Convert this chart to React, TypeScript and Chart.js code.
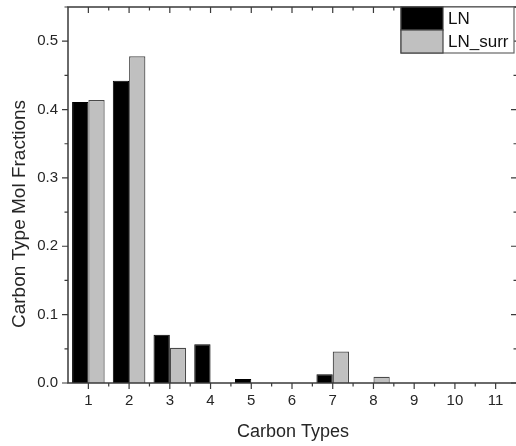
import React, { useEffect, useRef } from "react";
import { Chart, registerables } from "chart.js";

Chart.register(...registerables);

const categories = ["1", "2", "3", "4", "5", "6", "7", "8", "9", "10", "11"];
const lnValues = [0.411, 0.442, 0.0705, 0.0565, 0.006, 0, 0.0127, 0, 0, 0, 0];
const lnSurrValues = [0.414, 0.478, 0.0515, 0, 0, 0, 0.046, 0.009, 0, 0, 0];
const yTicks = [0, 0.1, 0.2, 0.3, 0.4, 0.5];
const seriesNames = ["LN", "LN_surr"];
const xTitle = "Carbon Types";
const yTitle = "Carbon Type Mol Fractions";

const FONT = "'Liberation Sans', Arial, sans-serif";
const TEXT = "#262626";
const AXIS = "#3a3a3a";

const framePlugin = {
  id: "frameTicks",
  afterDraw(chart: any) {
    const { ctx, chartArea } = chart;
    const { left, right, top, bottom } = chartArea;
    const xs = chart.scales.x;
    const ys = chart.scales.y;
    ctx.save();
    ctx.strokeStyle = AXIS;
    ctx.lineWidth = 1.5;
    ctx.beginPath();
    ctx.moveTo(right + 2, top);
    ctx.lineTo(left, top);
    ctx.lineTo(left, bottom);
    ctx.lineTo(right + 2, bottom);
    ctx.stroke();
    const MAJ = 6;
    const MIN = 3.5;
    ctx.lineWidth = 1.2;
    ctx.beginPath();
    for (let i = 0; i < categories.length; i++) {
      const px = xs.getPixelForValue(i);
      ctx.moveTo(px, bottom);
      ctx.lineTo(px, bottom + MAJ);
      ctx.moveTo(px, top);
      ctx.lineTo(px, top + MAJ);
      if (i < categories.length - 1) {
        const mx = (px + xs.getPixelForValue(i + 1)) / 2;
        ctx.moveTo(mx, bottom);
        ctx.lineTo(mx, bottom + MIN);
        ctx.moveTo(mx, top);
        ctx.lineTo(mx, top + MIN);
      }
    }
    for (let k = 0; k <= 11; k++) {
      const v = k * 0.05;
      const py = ys.getPixelForValue(v);
      const len = k % 2 === 0 ? MAJ : MIN;
      ctx.moveTo(left, py);
      ctx.lineTo(left - len, py);
      ctx.moveTo(right + 1, py);
      ctx.lineTo(right + 1 - len, py);
    }
    ctx.stroke();

    ctx.fillStyle = TEXT;
    ctx.font = `18px ${FONT}`;
    ctx.textAlign = "center";
    ctx.textBaseline = "middle";
    ctx.fillText(xTitle, (left + right) / 2 + 1, 432);
    ctx.save();
    ctx.translate(20, 214);
    ctx.rotate(-Math.PI / 2);
    ctx.font = `19px ${FONT}`;
    ctx.fillText(yTitle, 0, 0);
    ctx.restore();

    const lx = 401;
    const ly = top;
    const sw = 42;
    const sh = 23;
    const lr = 514;
    const colors = ["#000000", "#c0c0c0"];
    ctx.fillStyle = "#ffffff";
    ctx.fillRect(lx, ly, lr - lx, sh * 2);
    ctx.strokeStyle = "#666666";
    ctx.lineWidth = 1.2;
    ctx.strokeRect(lx, ly, lr - lx, sh * 2);
    for (let i = 0; i < seriesNames.length; i++) {
      ctx.fillStyle = colors[i];
      ctx.fillRect(lx, ly + i * sh, sw, sh);
      ctx.strokeStyle = "#444444";
      ctx.strokeRect(lx, ly + i * sh, sw, sh);
      ctx.fillStyle = "#111111";
      ctx.font = `17px ${FONT}`;
      ctx.textAlign = "left";
      ctx.textBaseline = "middle";
      ctx.fillText(seriesNames[i], lx + sw + 5, ly + i * sh + sh / 2 + 1);
    }
    ctx.restore();
  },
};

export default function App() {
  const ref = useRef<HTMLCanvasElement | null>(null);
  useEffect(() => {
    document.body.style.margin = "0";
    const canvas = ref.current;
    if (!canvas) return;
    const chart = new Chart(canvas, {
      type: "bar",
      data: {
        labels: categories,
        datasets: [
          {
            label: seriesNames[0],
            data: lnValues,
            backgroundColor: "#000000",
            borderColor: "#000000",
            borderWidth: 1,
            categoryPercentage: 0.8,
            barPercentage: 1.0,
          },
          {
            label: seriesNames[1],
            data: lnSurrValues,
            backgroundColor: "#c0c0c0",
            borderColor: "#4a4a4a",
            borderWidth: 1.2,
            categoryPercentage: 0.8,
            barPercentage: 1.0,
          },
        ],
      },
      options: {
        animation: false,
        responsive: false,
        maintainAspectRatio: false,
        devicePixelRatio: 1,
        layout: { padding: { left: 0, top: 7, right: 0, bottom: 0 } },
        plugins: {
          legend: { display: false },
          tooltip: { enabled: false },
        },
        scales: {
          x: {
            type: "category",
            offset: true,
            grid: { display: false, drawTicks: false },
            border: { display: false },
            ticks: {
              color: TEXT,
              font: { family: FONT, size: 15 },
              padding: 9,
              maxRotation: 0,
              autoSkip: false,
            },
            afterFit(scale: any) {
              scale.height = 63;
              scale.paddingLeft = 0;
              scale.paddingRight = 0;
            },
          },
          y: {
            min: 0,
            max: 0.55,
            grid: { display: false, drawTicks: false },
            border: { display: false },
            afterBuildTicks(scale: any) {
              scale.ticks = yTicks.map((v) => ({ value: v }));
            },
            ticks: {
              color: TEXT,
              font: { family: FONT, size: 15 },
              padding: 10,
              callback: (v: any) => Number(v).toFixed(1),
            },
            afterFit(scale: any) {
              scale.width = 68;
              scale.paddingTop = 0;
              scale.paddingBottom = 0;
            },
          },
        },
      },
      plugins: [framePlugin],
    });
    return () => chart.destroy();
  }, []);
  return (
    <div style={{ position: "fixed", left: 0, top: 0, width: 516, height: 446, background: "#fff" }}>
      <canvas ref={ref} width={516} height={446} style={{ width: 516, height: 446, display: "block" }} />
    </div>
  );
}
